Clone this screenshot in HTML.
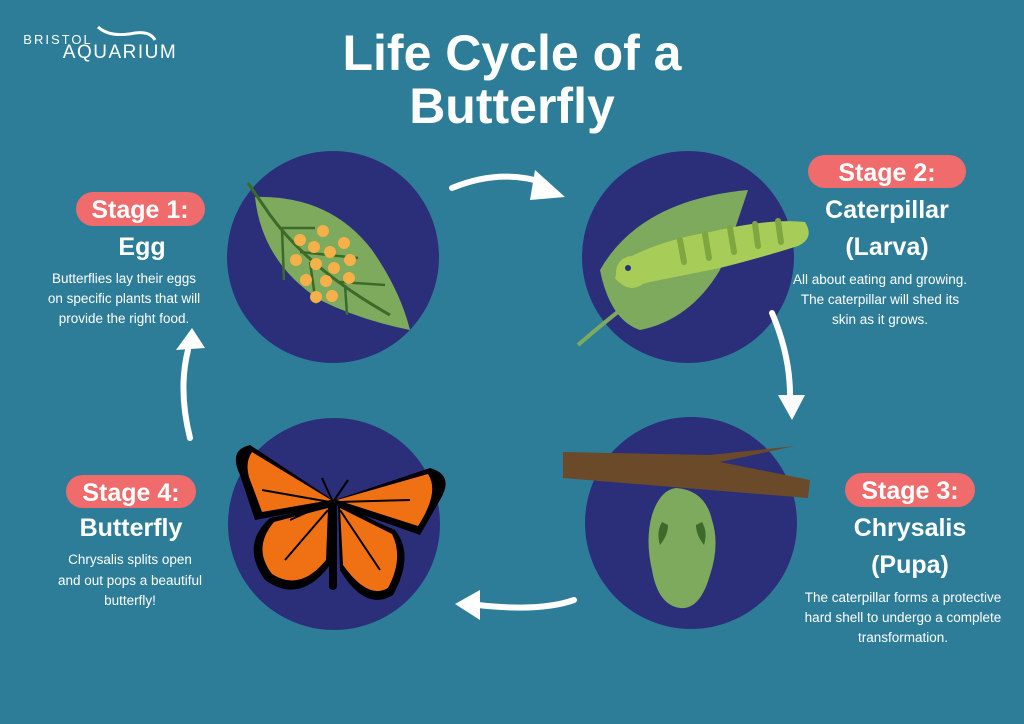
<!DOCTYPE html>
<html><head><meta charset="utf-8"><style>
html,body{margin:0;padding:0;background:#2d7d99;}
svg{display:block}
text{font-family:"Liberation Sans",sans-serif;fill:#fff;text-anchor:middle}
.t{font-weight:bold;font-size:50px}
.p{font-weight:bold;font-size:25px}
.h{font-weight:bold;font-size:25px}
.d{font-size:13.5px}
</style></head><body>
<svg width="1024" height="724" viewBox="0 0 1024 724" xmlns="http://www.w3.org/2000/svg">
<rect width="1024" height="724" fill="#2d7d99"/>
<!-- logo -->
<text x="58" y="44" style="font-size:13px;letter-spacing:2px" >BRISTOL</text>
<text x="120" y="58" style="font-size:19px;letter-spacing:1.5px">AQUARIUM</text>
<path d="M98 27 Q110 38 135 33 Q150 31 155 40" stroke="#fff" stroke-width="3" fill="none"/>
<!-- title -->
<text x="512" y="70" class="t">Life Cycle of a</text>
<text x="512" y="123" class="t">Butterfly</text>
<!-- circles -->
<circle cx="333" cy="257" r="106" fill="#2b2f7a"/>
<circle cx="688" cy="257" r="106" fill="#2b2f7a"/>
<circle cx="691" cy="523" r="106" fill="#2b2f7a"/>
<circle cx="334" cy="524" r="106" fill="#2b2f7a"/>
<!-- leaf 1 -->
<path d="M255 197 Q330 195 372 250 Q400 290 410 330 Q360 320 320 300 Q262 262 255 197Z" fill="#7daa5c"/>
<path d="M248 183 L270 215 Q310 270 390 315" stroke="#3c6a2a" stroke-width="3" fill="none"/>
<g stroke="#3c6a2a" stroke-width="2.5" fill="none">
<path d="M280 228 L315 228"/><path d="M282 230 L284 280"/><path d="M300 252 L358 258"/><path d="M310 262 L316 304"/><path d="M340 282 L385 285"/><path d="M345 285 L347 315"/></g>
<g fill="#f6b04a"><circle cx="323" cy="231" r="6"/><circle cx="300" cy="240" r="6"/><circle cx="314" cy="247" r="6"/><circle cx="330" cy="252" r="6"/><circle cx="344" cy="243" r="6"/><circle cx="296" cy="260" r="6"/><circle cx="316" cy="264" r="6"/><circle cx="334" cy="268" r="6"/><circle cx="350" cy="260" r="6"/><circle cx="306" cy="280" r="6"/><circle cx="326" cy="281" r="6"/><circle cx="349" cy="278" r="6"/><circle cx="316" cy="297" r="6"/><circle cx="332" cy="296" r="6"/></g>
<!-- leaf 2 -->
<path d="M600 270 Q640 200 748 190 Q735 230 720 270 Q690 320 640 330 Q610 320 600 270Z" fill="#7daa5c"/>
<path d="M578 345 Q630 300 700 250" stroke="#7daa5c" stroke-width="4" fill="none"/>
<path d="M620 262 Q660 240 710 232 Q770 218 805 222 Q815 238 798 246 Q760 258 720 268 Q680 276 650 282 Q622 290 615 278Z" fill="#a7cc58"/>
<g stroke="#7fa640" stroke-width="6" stroke-linecap="round"><path d="M680 240 L684 262"/><path d="M705 234 L709 258"/><path d="M730 228 L734 252"/><path d="M755 224 L758 246"/><path d="M778 221 L781 242"/></g>
<circle cx="632" cy="272" r="16" fill="#a7cc58"/>
<circle cx="628" cy="268" r="3" fill="#2b2f7a"/>
<!-- branch + chrysalis -->
<path d="M563 452 L710 455 L795 446 L720 462 L810 480 L808 498 L563 478Z" fill="#6b4a2a"/>
<path d="M676 488 Q705 490 712 520 Q720 545 710 575 Q700 610 680 608 Q658 605 652 570 Q645 540 652 515 Q660 490 676 488Z" fill="#7daa5c"/>
<path d="M662 522 Q656 532 660 545 Q668 535 668 525Z M702 522 Q708 532 704 545 Q696 535 696 525Z" fill="#3c6a2a"/>
<!-- butterfly -->
<path d="M333 500 L250 445 Q228 450 240 475 L255 520 L335 505Z" fill="#000"/>
<path d="M331 500 L252 452 Q243 465 252 485 L262 512Z" fill="#f07014"/>
<path d="M335 500 L430 468 Q455 475 440 500 L420 535 L335 505Z" fill="#000"/>
<path d="M337 500 L428 474 Q440 492 418 526Z" fill="#f07014"/>
<path d="M330 505 L270 518 Q240 545 265 580 Q300 605 330 565Z" fill="#000"/>
<path d="M328 508 L274 522 Q252 548 272 574 Q300 592 326 560Z" fill="#f07014"/>
<path d="M338 505 L395 530 Q415 555 393 595 Q365 612 340 570Z" fill="#000"/>
<path d="M340 508 L392 534 Q404 558 388 588 Q368 600 343 565Z" fill="#f07014"/>
<g stroke="#000" stroke-width="2" fill="none"><path d="M330 502 L262 490"/><path d="M330 502 L290 520"/><path d="M338 502 L410 500"/><path d="M338 502 L380 525"/><path d="M328 510 L285 560"/><path d="M340 510 L380 570"/></g>
<rect x="329" y="502" width="8" height="88" rx="4" fill="#000"/>
<path d="M333 502 L322 478 M333 502 L348 480" stroke="#000" stroke-width="2"/>
<!-- arrows -->
<g stroke="#fff" stroke-width="6" fill="none" stroke-linecap="round">
<path d="M452 188 Q500 168 545 183"/>
<path d="M772 313 Q790 355 790 395"/>
<path d="M574 600 Q540 612 478 605"/>
<path d="M190 438 Q178 390 188 350"/>
</g>
<g fill="#fff">
<path d="M535 170 L565 197 L530 200Z"/>
<path d="M778 395 L805 395 L792 420Z"/>
<path d="M480 590 L455 604 L480 620Z"/>
<path d="M176 350 L205 348 L192 328Z"/>
</g>
<!-- pills -->
<rect x="76" y="192" width="129" height="34" rx="17" fill="#f06b6c"/>
<text x="140" y="218" class="p">Stage 1:</text>
<text x="142" y="255" class="h">Egg</text>
<text x="124" y="283" class="d">Butterflies lay their eggs</text>
<text x="124" y="303" class="d">on specific plants that will</text>
<text x="124" y="323" class="d">provide the right food.</text>

<rect x="808" y="155" width="158" height="33" rx="16.5" fill="#f06b6c"/>
<text x="887" y="181" class="p">Stage 2:</text>
<text x="887" y="218" class="h">Caterpillar</text>
<text x="887" y="255" class="h">(Larva)</text>
<text x="880" y="284" class="d">All about eating and growing.</text>
<text x="880" y="304" class="d">The caterpillar will shed its</text>
<text x="880" y="324" class="d">skin as it grows.</text>

<rect x="845" y="473" width="130" height="34" rx="17" fill="#f06b6c"/>
<text x="910" y="499" class="p">Stage 3:</text>
<text x="910" y="536" class="h">Chrysalis</text>
<text x="910" y="573" class="h">(Pupa)</text>
<text x="903" y="602" class="d">The caterpillar forms a protective</text>
<text x="903" y="622" class="d">hard shell to undergo a complete</text>
<text x="903" y="642" class="d">transformation.</text>

<rect x="66" y="475" width="130" height="33" rx="16.5" fill="#f06b6c"/>
<text x="131" y="501" class="p">Stage 4:</text>
<text x="131" y="536" class="h">Butterfly</text>
<text x="130" y="564" class="d">Chrysalis splits open</text>
<text x="130" y="585" class="d">and out pops a beautiful</text>
<text x="130" y="605" class="d">butterfly!</text>
</svg>
</body></html>
